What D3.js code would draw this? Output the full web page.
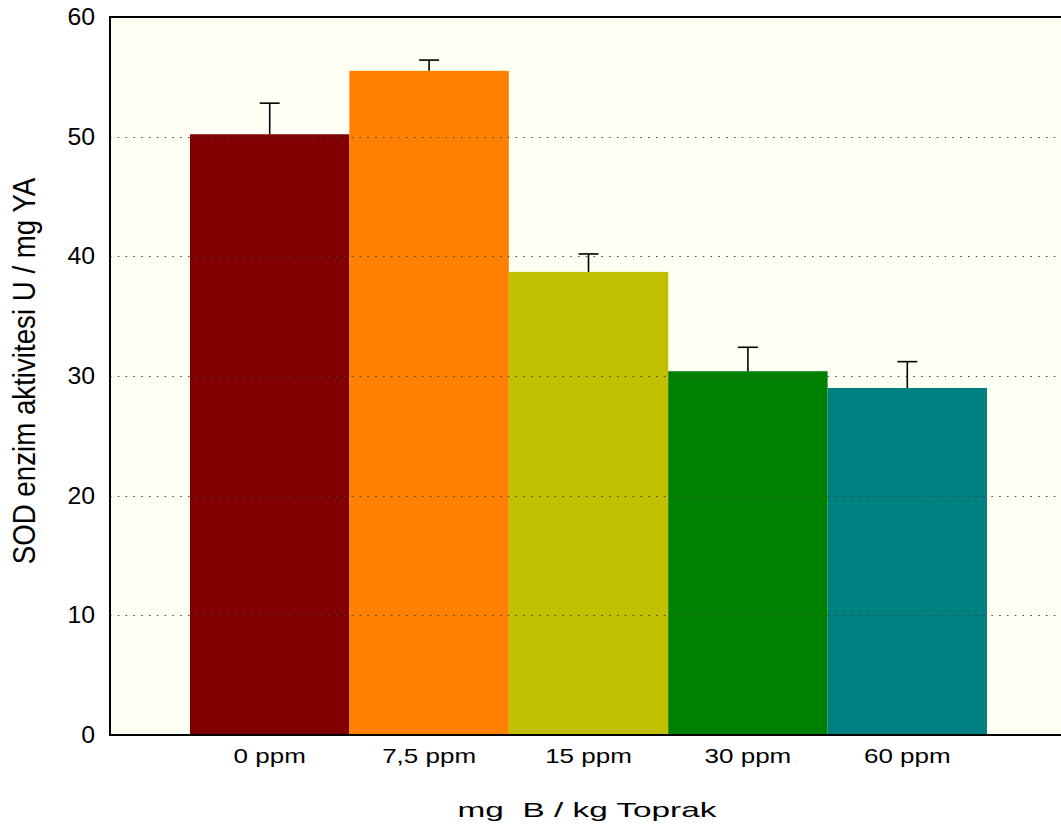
<!DOCTYPE html>
<html>
<head>
<meta charset="utf-8">
<script src="https://cdn.jsdelivr.net/npm/d3@7"></script>
<style>
  body { margin: 0; background: #fff; }
  svg { display: block; font-family: "Liberation Sans", Arial, sans-serif; }
</style>
</head>
<body>
<div id="chart-area"></div>
<script>
/* data */
const doses = ["0 ppm", "7,5 ppm", "15 ppm", "30 ppm", "60 ppm"]
const sod = [50.2, 55.5, 38.7, 30.4, 29.0]
const sodErr = [2.6, 0.9, 1.5, 2.0, 2.2]
const barColors = ["#800000", "#ff8000", "#c0c000", "#008000", "#008080"]
const yTicks = [0, 10, 20, 30, 40, 50, 60]

// Preparing the SVG
const MARGIN = { LEFT: 110, RIGHT: -6, TOP: 17, BOTTOM: 92 }
const WIDTH = 1061 - MARGIN.LEFT - MARGIN.RIGHT
const HEIGHT = 827 - MARGIN.TOP - MARGIN.BOTTOM

const svg = d3.select("#chart-area").append("svg")
    .attr("width", 1061)
    .attr("height", 827)

const g = svg.append("g")
    .attr("transform", `translate(${MARGIN.LEFT},${MARGIN.TOP})`)

// scales
const x = d3.scaleBand()
    .domain(doses)
    .range([80, WIDTH - 80])
    .padding(0)

const y = d3.scaleLinear()
    .domain([0, 60])
    .range([HEIGHT, 0])

// plot background
g.append("rect")
    .attr("width", WIDTH)
    .attr("height", HEIGHT)
    .attr("fill", "#fffff3")

// bars
g.selectAll("rect.bar")
    .data(sod)
    .enter().append("rect")
    .attr("class", "bar")
    .attr("x", (d, i) => x(doses[i]))
    .attr("y", d => y(d))
    .attr("width", x.bandwidth())
    .attr("height", d => HEIGHT - y(d))
    .attr("fill", (d, i) => barColors[i])

// dotted grid lines, drawn over the bars
g.selectAll("line.grid")
    .data(yTicks.filter(t => t > 0 && t < 60))
    .enter().append("line")
    .attr("class", "grid")
    .attr("x1", 0)
    .attr("x2", WIDTH)
    .attr("y1", d => Math.round(y(d)) + 0.5)
    .attr("y2", d => Math.round(y(d)) + 0.5)
    .attr("stroke", "#444")
    .attr("stroke-width", 1.2)
    .attr("stroke-dasharray", "1.5,6.3")

// error bars (upper only)
const errG = g.selectAll("g.err")
    .data(sod)
    .enter().append("g")
    .attr("class", "err")
    .attr("transform", (d, i) => `translate(${x(doses[i]) + x.bandwidth() / 2},0)`)

errG.append("line")
    .attr("y1", d => y(d))
    .attr("y2", (d, i) => y(d + sodErr[i]))
    .attr("stroke", "#000")
    .attr("stroke-width", 1.6)

errG.append("line")
    .attr("x1", -10)
    .attr("x2", 10)
    .attr("y1", (d, i) => y(d + sodErr[i]))
    .attr("y2", (d, i) => y(d + sodErr[i]))
    .attr("stroke", "#000")
    .attr("stroke-width", 1.6)

// frame: left, top, bottom
g.append("path")
    .attr("d", `M${WIDTH},0H0V${HEIGHT}H${WIDTH}`)
    .attr("fill", "none")
    .attr("stroke", "#000")
    .attr("stroke-width", 2)

// axes (the source picture is stretched sideways, so the labels are too)
const Y_STRETCH = 1.08
const yAxis = d3.axisLeft(y).tickValues(yTicks).tickSize(0).tickPadding(15)
g.append("g").call(yAxis)
    .call(a => a.select(".domain").remove())
    .selectAll("text")
    .attr("font-size", 23)
    .attr("dy", "0.32em")
    .attr("x", -15 / Y_STRETCH)
    .attr("transform", `scale(${Y_STRETCH},1)`)
    .attr("font-family", "Liberation Sans, Arial, sans-serif")
    .attr("fill", "#000")

const X_STRETCH = 1.3
const xAxis = d3.axisBottom(x).tickSize(0).tickPadding(14)
g.append("g")
    .attr("transform", `translate(0,${HEIGHT})`)
    .call(xAxis)
    .call(a => a.select(".domain").remove())
    .selectAll("text")
    .attr("font-size", 20)
    .attr("transform", `scale(${X_STRETCH},1)`)
    .attr("font-family", "Liberation Sans, Arial, sans-serif")
    .attr("fill", "#000")

// axis titles
const xTitle = svg.append("text")
    .attr("text-anchor", "middle")
    .attr("font-size", 21)
    .attr("xml:space", "preserve")
    .text("mg  B / kg Toprak")
const xk = 259 / xTitle.node().getComputedTextLength()
xTitle.attr("transform", `translate(587,817) scale(${xk},1)`)

const yTitle = svg.append("text")
    .attr("text-anchor", "middle")
    .attr("font-size", 31)
    .text("SOD enzim aktivitesi U / mg YA")
const yk = 387 / yTitle.node().getComputedTextLength()
yTitle.attr("transform", `translate(35,371) rotate(-90) scale(${yk},1)`)
</script>
</body>
</html>
